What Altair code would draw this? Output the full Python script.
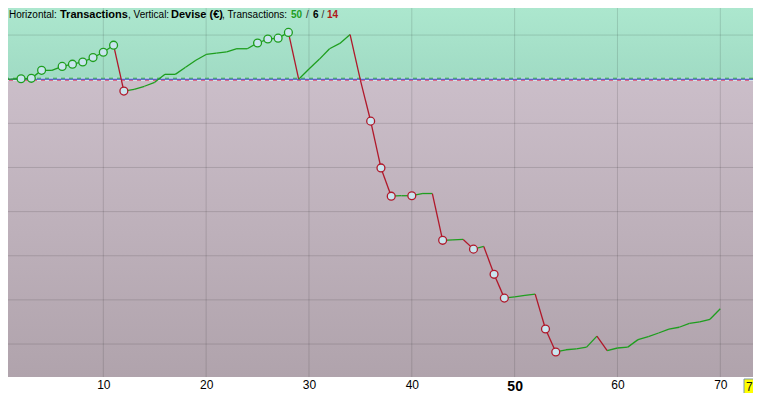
import altair as alt
import pandas as pd

# ---- data ----
transactions = list(range(0, 71))
devise = [0, 0, 1, 2, 20, 20, 29, 34, 39, 49, 61, 77, -27, -23, -16, -7, 11, 11, 27, 43,
          56, 59, 62, 69, 69, 82, 91, 93, 106, 0, 23, 45, 69, 81, 101, -2, -95, -201, -265, -264,
          -264, -259, -259, -365, -364, -363, -385, -379, -442, -496, -493, -490, -487, -566, -618, -613,
          -611, -607, -582, -615, -609, -607, -590, -583, -575, -566, -562, -553, -550, -544, -520]
marked = [2, 3, 4, 6, 7, 8, 9, 10, 11, 12, 25, 26, 27, 28, 36, 37, 38, 40, 43, 46, 48, 49, 53, 54]
x_ticks = [10, 20, 30, 40, 50, 60, 70]
y_grid = [100, -100, -200, -300, -400, -500, -600]
current_label = "7"
title_parts = ["Horizontal:", "Transactions", ", Vertical:", "Devise (€)", ", Transactions:",
               "50", "/", "6", "/", "14"]

W, H = 745, 369
xs = alt.Scale(domain=[0.732, 73.18], nice=False, zero=False)
ys = alt.Scale(domain=[-674.7, 161.3], nice=False, zero=False)

GREEN = "#1e9e1e"
RED = "#b0182a"

xaxis = alt.Axis(values=x_ticks, grid=False, ticks=False, domain=False,
                 labelFont="Liberation Sans", labelColor="#000000",
                 labelFontSize={"condition": {"test": "datum.value == 50", "value": 14}, "value": 12},
                 labelFontWeight={"condition": {"test": "datum.value == 50", "value": "bold"}, "value": "normal"},
                 labelPadding=2, labelFlush=False, labelOverlap=False)


def X(field):
    return alt.X(field, scale=xs, title=None, axis=xaxis)


def Y(field):
    return alt.Y(field, scale=ys, title=None, axis=None)


seg = pd.DataFrame({
    "x": transactions[:-1], "x2": transactions[1:],
    "y": devise[:-1], "y2": devise[1:],
})
seg["dir"] = ["up" if b >= a else "down" for a, b in zip(devise[:-1], devise[1:])]

pts = pd.DataFrame({"x": marked, "y": [devise[i] for i in marked]})
pts["side"] = ["pos" if v >= 0 else "neg" for v in pts["y"]]

green_bg = alt.Chart(pd.DataFrame({"top": [ys.domain[1]], "bot": [0]})).mark_rect(
    color=alt.Gradient(gradient="linear", x1=0, x2=0, y1=0, y2=1,
                       stops=[alt.GradientStop(color="#ace7ce", offset=0),
                              alt.GradientStop(color="#a0dbc4", offset=1)])
).encode(x=alt.value(0), x2=alt.value(W), y=Y("top:Q"), y2="bot:Q")

mauve_bg = alt.Chart(pd.DataFrame({"top": [0], "bot": [ys.domain[0]]})).mark_rect(
    color=alt.Gradient(gradient="linear", x1=0, x2=0, y1=0, y2=1,
                       stops=[alt.GradientStop(color="#cbbec9", offset=0),
                              alt.GradientStop(color="#b0a3ac", offset=1)])
).encode(x=alt.value(0), x2=alt.value(W), y=Y("top:Q"), y2="bot:Q")

vgrid = alt.Chart(pd.DataFrame({"t": x_ticks})).mark_rule(
    color="#000000", opacity=0.13, strokeWidth=1
).encode(x=X("t:Q"))

hgrid = alt.Chart(pd.DataFrame({"g": y_grid})).mark_rule(
    color="#000000", opacity=0.13, strokeWidth=1
).encode(y=Y("g:Q"))

zero_df = pd.DataFrame({"z": [0]})
zero_band = alt.Chart(zero_df).mark_rule(color="#dcecf2", strokeWidth=3).encode(y=Y("z:Q"))
zero_green = alt.Chart(zero_df).mark_rule(color="#2cb42c", strokeWidth=1, strokeDash=[4, 4],
                                          yOffset=-1).encode(y=Y("z:Q"))
zero_red = alt.Chart(zero_df).mark_rule(color="#e0305a", strokeWidth=1, strokeDash=[4, 4],
                                        strokeDashOffset=4, yOffset=1).encode(y=Y("z:Q"))
zero_blue = alt.Chart(zero_df).mark_rule(color="#2840c0", strokeWidth=1).encode(y=Y("z:Q"))

lines = alt.Chart(seg).mark_rule(strokeWidth=1.3, clip=True).encode(
    x=X("x:Q"), x2="x2:Q",
    y=Y("y:Q"), y2="y2:Q",
    color=alt.Color("dir:N", scale=alt.Scale(domain=["up", "down"], range=[GREEN, RED]), legend=None),
)

circles = alt.Chart(pts).mark_point(filled=False, fill="#c9e5ee", fillOpacity=1, size=62,
                                    strokeWidth=1.3, opacity=1).encode(
    x=X("x:Q"), y=Y("y:Q"),
    stroke=alt.Stroke("side:N", scale=alt.Scale(domain=["pos", "neg"], range=[GREEN, RED]), legend=None),
)

# title pieces (chart-pixel positions)
pos_x = [1, 52, 120, 163, 214, 283, 298, 305, 313.5, 319]
weights = ["normal", "bold", "normal", "bold", "normal", "bold", "normal", "bold", "normal", "bold"]
colors = ["#000000", "#000000", "#000000", "#000000", "#000000", GREEN, "#303030", "#000000", "#303030", "#b01818"]
sizes = [10, 11, 10, 11, 10, 10, 10, 10, 10, 10]
title_layers = []
for txt, px, w, c, s in zip(title_parts, pos_x, weights, colors, sizes):
    title_layers.append(
        alt.Chart(pd.DataFrame({"t": [txt]})).mark_text(
            align="left", baseline="alphabetic", font="Liberation Sans", fontSize=s,
            fontWeight=w, color=c
        ).encode(x=alt.value(px), y=alt.value(10), text="t:N")
    )

cur_df = pd.DataFrame({"t": [current_label]})
cur_box = alt.Chart(cur_df).mark_rect(fill="#ffff00", stroke="#7898a8", strokeWidth=1, clip=False).encode(
    x=alt.value(W - 9), x2=alt.value(W + 4),
    y=alt.value(H + 2), y2=alt.value(H + 20),
)
cur_txt = alt.Chart(cur_df).mark_text(align="left", baseline="middle", font="Liberation Sans",
                                      fontSize=12, color="#102010", clip=False).encode(
    x=alt.value(W - 7), y=alt.value(H + 10), text="t:N")

chart = alt.layer(
    green_bg, mauve_bg, vgrid, hgrid, zero_band, zero_green, zero_red, zero_blue,
    lines, circles, cur_box, cur_txt, *title_layers
).properties(
    width=W, height=H,
    padding={"left": 0, "top": 0, "right": 0, "bottom": 16},
    autosize=alt.AutoSizeParams(type="none"),
    background="#ffffff",
).configure_view(strokeWidth=0)

chart.save("out.html", embed_options={"renderer": "svg", "actions": False})
